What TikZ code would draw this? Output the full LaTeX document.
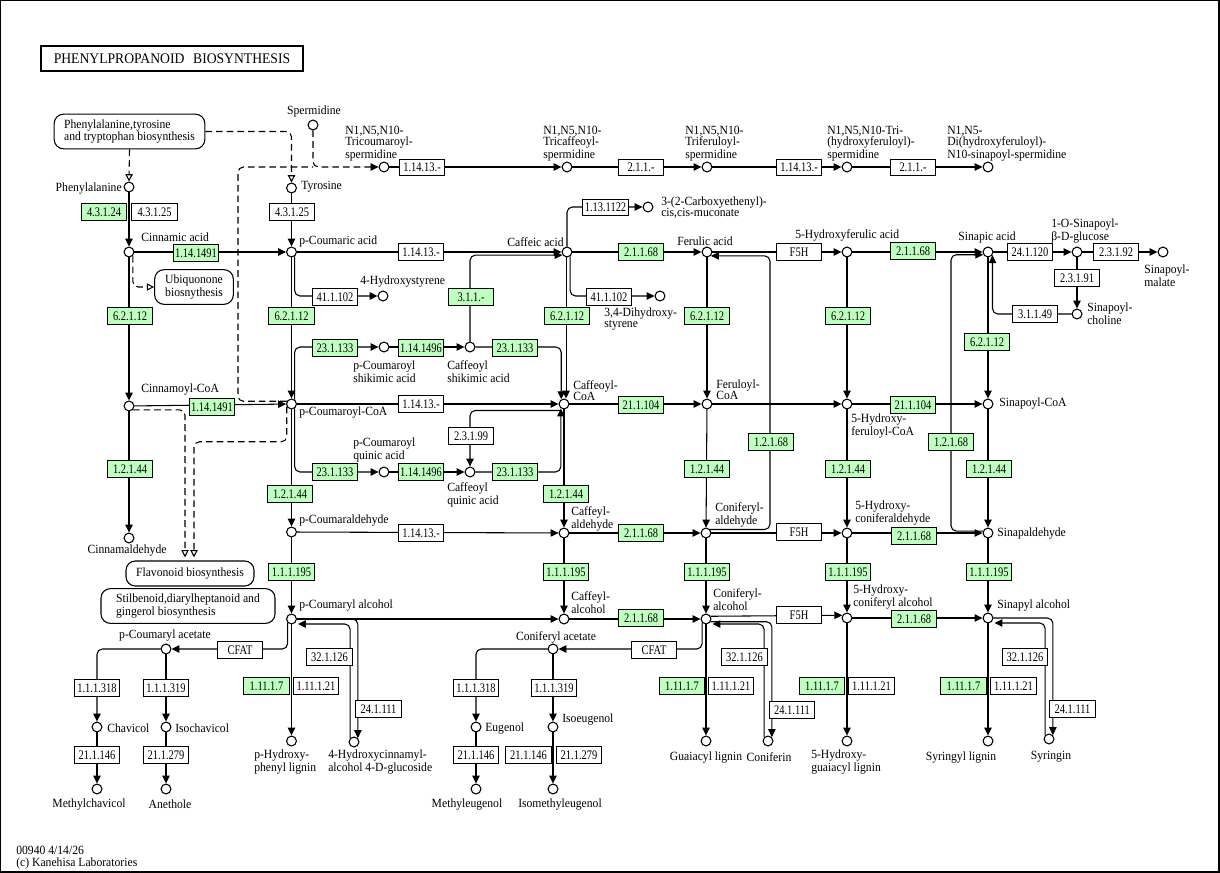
\documentclass[tikz,border=0pt]{standalone}
\usepackage{fontspec}
\setmainfont{Liberation Serif}
\newfontfamily\lblf[FakeStretch=0.93]{Liberation Serif}
\newfontfamily\ecf[FakeStretch=0.8]{Liberation Serif}
\usetikzlibrary{arrows.meta,calc}
\definecolor{kgreen}{RGB}{191,255,191}
\pgfdeclarelayer{bg}
\pgfsetlayers{bg,main}
\begin{document}
\begin{tikzpicture}[x=0.75pt,y=-0.75pt,
  cpd/.style={circle,draw,fill=white,line width=0.8pt,minimum size=7.4pt,inner sep=0pt},
  ec/.style={rectangle,draw,fill=white,line width=0.75pt,minimum width=34pt,minimum height=12.6pt,inner sep=0pt,font=\ecf\fontsize{9.8}{9.8}\selectfont},
  ecg/.style={ec,fill=kgreen},
  lbl/.style={inner sep=0pt,font=\lblf\fontsize{9.4}{8.3}\selectfont,align=left},
  mapbox/.style={draw,rounded corners=7pt,line width=0.8pt,inner sep=0pt,font=\lblf\fontsize{9.4}{8.3}\selectfont},
  con/.style={line width=0.8pt,rounded corners=4pt},
  arr/.style={con,-{Triangle[length=6pt,width=5.6pt]}},
  dsh/.style={con,dash pattern=on 5pt off 3pt},
  oarr/.style={-{Triangle[open,length=5.5pt,width=5.5pt]}}
]
\useasboundingbox (0,0) rectangle (1220,873);
\draw[line width=1.1pt] (0.7,0.7) rectangle (1219,872);
\node[draw,line width=1.6pt,minimum width=196pt,minimum height=18.75pt,inner sep=0pt,font=\lblf\fontsize{11}{11}\selectfont] (title) at (172,58.5) {PHENYLPROPANOID\hspace{0.6em}BIOSYNTHESIS};

% ---------- map boxes
\node[mapbox,minimum width=113pt,minimum height=26pt,align=left] (ptt) at (129.5,131.5) {Phenylalanine,tyrosine\\and tryptophan biosynthesis};
\node[mapbox,minimum width=59pt,minimum height=26pt,align=center] (ubq) at (194,287) {Ubiquonone\\biosnythesis};
\node[mapbox,minimum width=96pt,minimum height=18.75pt] (fla) at (190,573.5) {Flavonoid biosynthesis};
\node[mapbox,minimum width=130.5pt,minimum height=26pt,align=left] (stb) at (188,606) {Stilbenoid,diarylheptanoid and\\gingerol biosynthesis};

% ---------- compounds
\node[cpd] (spd) at (313,125) {};
\node[cpd] (tcs) at (384,167) {};
\node[cpd] (tcafs) at (567,167) {};
\node[cpd] (tfs) at (707,167) {};
\node[cpd] (thfs) at (847,167) {};
\node[cpd] (dhfs) at (988,167) {};
\node[cpd] (phe) at (129,187) {};
\node[cpd] (tyr) at (291.5,188) {};
\node[cpd] (cin) at (129,252) {};
\node[cpd] (pca) at (291.5,252) {};
\node[cpd] (hst) at (383,296) {};
\node[cpd] (caf) at (567,252) {};
\node[cpd] (cem) at (648,207) {};
\node[cpd] (dhs) at (660,296) {};
\node[cpd] (fer) at (707,252) {};
\node[cpd] (hfa) at (847,252) {};
\node[cpd] (sin) at (988,252) {};
\node[cpd] (sglc) at (1077,252) {};
\node[cpd] (smal) at (1163,252) {};
\node[cpd] (schol) at (1077,314) {};
\node[cpd] (pcs) at (384,347) {};
\node[cpd] (cfs) at (470,347) {};
\node[cpd] (cnc) at (129,406) {};
\node[cpd] (pcc) at (291.5,404) {};
\node[cpd] (cfc) at (564,404) {};
\node[cpd] (frc) at (707,404) {};
\node[cpd] (hfc) at (847,404) {};
\node[cpd] (snc) at (988,404) {};
\node[cpd] (pcq) at (384,472) {};
\node[cpd] (cfq) at (470,472) {};
\node[cpd] (cald) at (129,538) {};
\node[cpd] (pcal) at (291.5,532) {};
\node[cpd] (cfal) at (564,533) {};
\node[cpd] (cnal) at (706,533) {};
\node[cpd] (hcal) at (847,533) {};
\node[cpd] (snal) at (988,533) {};
\node[cpd] (pcol) at (291.5,619) {};
\node[cpd] (cfol) at (564,619) {};
\node[cpd] (cnol) at (706,619) {};
\node[cpd] (hcol) at (847,618) {};
\node[cpd] (snol) at (988,618) {};
\node[cpd] (pcac) at (166,649) {};
\node[cpd] (cnac) at (553,649) {};
\node[cpd] (chv) at (97,727) {};
\node[cpd] (ichv) at (166,727) {};
\node[cpd] (mchv) at (97,789) {};
\node[cpd] (anet) at (166,789) {};
\node[cpd] (eug) at (476,727) {};
\node[cpd] (ieug) at (553,727) {};
\node[cpd] (meug) at (476,789) {};
\node[cpd] (imeug) at (553,789) {};
\node[cpd] (phl) at (291.5,741) {};
\node[cpd] (hcg) at (354,742) {};
\node[cpd] (gl) at (706,741) {};
\node[cpd] (cnf) at (768,741) {};
\node[cpd] (hgl) at (847,741) {};
\node[cpd] (sl) at (988,741) {};
\node[cpd] (syr) at (1049,739) {};

% ---------- enzyme boxes
\node[ec] (e1) at (422,167.5) {1.14.13.-};
\node[ec] (e2) at (641,167.5) {2.1.1.-};
\node[ec] (e3) at (799,167.5) {1.14.13.-};
\node[ec] (e4) at (913,167.5) {2.1.1.-};
\node[ecg] (e5) at (104,212) {4.3.1.24};
\node[ec] (e6) at (154.5,212) {4.3.1.25};
\node[ec] (e7) at (292,212) {4.3.1.25};
\node[ecg] (e8) at (196,253) {1.14.1491};
\node[ec] (e9) at (421,252) {1.14.13.-};
\node[ecg] (e10) at (641,252) {2.1.1.68};
\node[ec] (e11) at (799,252) {F5H};
\node[ecg] (e12) at (913,251) {2.1.1.68};
\node[ec] (e13) at (1030,252) {24.1.120};
\node[ec] (e14) at (1116,252) {2.3.1.92};
\node[ec] (e15) at (1077,278) {2.3.1.91};
\node[ec] (e16) at (1035,314) {3.1.1.49};
\node[ec] (e17) at (605.5,207.5) {1.13.1122};
\node[ec] (e18) at (335,297) {41.1.102};
\node[ec] (e19) at (609,297) {41.1.102};
\node[ecg] (e20) at (130,316) {6.2.1.12};
\node[ecg] (e21) at (291.5,316) {6.2.1.12};
\node[ecg] (e22) at (567,316) {6.2.1.12};
\node[ecg] (e23) at (707,316) {6.2.1.12};
\node[ecg] (e24) at (848,316) {6.2.1.12};
\node[ecg] (e25) at (987,342) {6.2.1.12};
\node[ecg] (e26) at (471,297) {3.1.1.-};
\node[ecg] (e27) at (335,348) {23.1.133};
\node[ecg] (e28) at (421,348) {1.14.1496};
\node[ecg] (e29) at (515,348) {23.1.133};
\node[ecg] (e30) at (212,407) {1.14.1491};
\node[ec] (e31) at (421,404) {1.14.13.-};
\node[ecg] (e32) at (641,405) {21.1.104};
\node[ecg] (e33) at (913,405) {21.1.104};
\node[ec] (e34) at (471,436) {2.3.1.99};
\node[ecg] (e35) at (335,472) {23.1.133};
\node[ecg] (e36) at (421,472) {1.14.1496};
\node[ecg] (e37) at (515,472) {23.1.133};
\node[ecg] (e38) at (771,442) {1.2.1.68};
\node[ecg] (e39) at (951,442) {1.2.1.68};
\node[ecg] (e40) at (130,469) {1.2.1.44};
\node[ecg] (e41) at (290,494) {1.2.1.44};
\node[ecg] (e42) at (566,494) {1.2.1.44};
\node[ecg] (e43) at (707,469) {1.2.1.44};
\node[ecg] (e44) at (848,469) {1.2.1.44};
\node[ecg] (e45) at (989,469) {1.2.1.44};
\node[ec] (e46) at (421,533) {1.14.13.-};
\node[ecg] (e47) at (641,533) {2.1.1.68};
\node[ec] (e48) at (799,532) {F5H};
\node[ecg] (e49) at (914,536) {2.1.1.68};
\node[ecg] (e50) at (291.5,572) {1.1.1.195};
\node[ecg] (e51) at (566,572) {1.1.1.195};
\node[ecg] (e52) at (707,572) {1.1.1.195};
\node[ecg] (e53) at (848,572) {1.1.1.195};
\node[ecg] (e54) at (989,572) {1.1.1.195};
\node[ecg] (e55) at (641,618) {2.1.1.68};
\node[ec] (e56) at (799,615) {F5H};
\node[ecg] (e57) at (914,619) {2.1.1.68};
\node[ec] (e58) at (240,650) {CFAT};
\node[ec] (e59) at (654,650) {CFAT};
\node[ec] (e60) at (97,688) {1.1.1.318};
\node[ec] (e61) at (166,688) {1.1.1.319};
\node[ec] (e62) at (97,755) {21.1.146};
\node[ec] (e63) at (166,755) {21.1.279};
\node[ec] (e64) at (476,688) {1.1.1.318};
\node[ec] (e65) at (554,688) {1.1.1.319};
\node[ec] (e66) at (476,755) {21.1.146};
\node[ec] (e67) at (528.5,755) {21.1.146};
\node[ec] (e68) at (579,755) {21.1.279};
\node[ecg] (e69) at (266.5,686) {1.11.1.7};
\node[ec] (e70) at (316,686) {1.11.1.21};
\node[ec] (e71) at (329.5,657) {32.1.126};
\node[ec] (e72) at (378.5,709) {24.1.111};
\node[ecg] (e73) at (682,686) {1.11.1.7};
\node[ec] (e74) at (731,686) {1.11.1.21};
\node[ec] (e75) at (744.5,657) {32.1.126};
\node[ec] (e76) at (792,710) {24.1.111};
\node[ecg] (e77) at (822,686) {1.11.1.7};
\node[ec] (e78) at (871.5,686) {1.11.1.21};
\node[ecg] (e79) at (963.5,686) {1.11.1.7};
\node[ec] (e80) at (1013.5,686) {1.11.1.21};
\node[ec] (e81) at (1025,657) {32.1.126};
\node[ec] (e82) at (1072.5,709) {24.1.111};

% ---------- labels
\node[lbl] (l1) at (314,111) {Spermidine};
\node[lbl,anchor=west] (l2) at (345,144) {N1,N5,N10-\\Tricoumaroyl-\\spermidine};
\node[lbl,anchor=west] (l3) at (543,144) {N1,N5,N10-\\Tricaffeoyl-\\spermidine};
\node[lbl,anchor=west] (l4) at (685,144) {N1,N5,N10-\\Triferuloyl-\\spermidine};
\node[lbl,anchor=west] (l5) at (827,144) {N1,N5,N10-Tri-\\(hydroxyferuloyl)-\\spermidine};
\node[lbl,anchor=west] (l6) at (947,144) {N1,N5-\\Di(hydroxyferuloyl)-\\N10-sinapoyl-spermidine};
\node[lbl,anchor=east] (l7) at (122,189) {Phenylalanine};
\node[lbl,anchor=west] (l8) at (301,187) {Tyrosine};
\node[lbl,anchor=west] (l9) at (141,237) {Cinnamic acid};
\node[lbl,anchor=west] (l10) at (299,241) {p-Coumaric acid};
\node[lbl,anchor=west] (l11) at (360,282) {4-Hydroxystyrene};
\node[lbl,anchor=east] (l12) at (564,242) {Caffeic acid};
\node[lbl,anchor=west] (l13) at (661,208) {3-(2-Carboxyethenyl)-\\cis,cis-muconate};
\node[lbl,anchor=west] (l14) at (604,319) {3,4-Dihydroxy-\\styrene};
\node[lbl] (l15) at (705,241) {Ferulic acid};
\node[lbl,anchor=west] (l16) at (795,235) {5-Hydroxyferulic acid};
\node[lbl,anchor=west] (l17) at (958,237) {Sinapic acid};
\node[lbl,anchor=west] (l18) at (1051,231) {1-O-Sinapoyl-\\β-D-glucose};
\node[lbl,anchor=west] (l19) at (1144,276) {Sinapoyl-\\malate};
\node[lbl,anchor=west] (l20) at (1087,314) {Sinapoyl-\\choline};
\node[lbl,anchor=west] (l21) at (353,372) {p-Coumaroyl\\shikimic acid};
\node[lbl,anchor=west] (l22) at (447,372) {Caffeoyl\\shikimic acid};
\node[lbl,anchor=west] (l23) at (141,390) {Cinnamoyl-CoA};
\node[lbl,anchor=west] (l24) at (299,413) {p-Coumaroyl-CoA};
\node[lbl,anchor=west] (l25) at (573,391) {Caffeoyl-\\CoA};
\node[lbl,anchor=west] (l26) at (716,390) {Feruloyl-\\CoA};
\node[lbl,anchor=west] (l27) at (851,426) {5-Hydroxy-\\feruloyl-CoA};
\node[lbl,anchor=west] (l28) at (999,404) {Sinapoyl-CoA};
\node[lbl,anchor=west] (l29) at (353,450) {p-Coumaroyl\\quinic acid};
\node[lbl,anchor=west] (l30) at (447,495) {Caffeoyl\\quinic acid};
\node[lbl] (l31) at (127,551) {Cinnamaldehyde};
\node[lbl,anchor=west] (l32) at (299,521) {p-Coumaraldehyde};
\node[lbl,anchor=west] (l33) at (571,519) {Caffeyl-\\aldehyde};
\node[lbl,anchor=west] (l34) at (715,515) {Coniferyl-\\aldehyde};
\node[lbl,anchor=west] (l35) at (855,513) {5-Hydroxy-\\coniferaldehyde};
\node[lbl,anchor=west] (l36) at (997,534) {Sinapaldehyde};
\node[lbl,anchor=west] (l37) at (299,606) {p-Coumaryl alcohol};
\node[lbl,anchor=west] (l38) at (571,603) {Caffeyl-\\alcohol};
\node[lbl,anchor=west] (l39) at (713,600) {Coniferyl-\\alcohol};
\node[lbl,anchor=west] (l40) at (853,597) {5-Hydroxy-\\coniferyl alcohol};
\node[lbl,anchor=west] (l41) at (997,606) {Sinapyl alcohol};
\node[lbl] (l42) at (165,636) {p-Coumaryl acetate};
\node[lbl] (l43) at (556,637) {Coniferyl acetate};
\node[lbl,anchor=west] (l44) at (107,728) {Chavicol};
\node[lbl,anchor=west] (l45) at (175,728) {Isochavicol};
\node[lbl,anchor=west] (l46) at (485,728) {Eugenol};
\node[lbl,anchor=west] (l47) at (562,719) {Isoeugenol};
\node[lbl] (l48) at (89,804) {Methylchavicol};
\node[lbl] (l49) at (170,804) {Anethole};
\node[lbl] (l50) at (467,804) {Methyleugenol};
\node[lbl] (l51) at (560,804) {Isomethyleugenol};
\node[lbl,anchor=west] (l52) at (254,762) {p-Hydroxy-\\phenyl lignin};
\node[lbl,anchor=west] (l53) at (328,762) {4-Hydroxycinnamyl-\\alcohol 4-D-glucoside};
\node[lbl] (l54) at (706,757) {Guaiacyl lignin};
\node[lbl] (l55) at (769,757) {Coniferin};
\node[lbl,anchor=west] (l56) at (811,762) {5-Hydroxy-\\guaiacyl lignin};
\node[lbl] (l57) at (961,757) {Syringyl lignin};
\node[lbl] (l58) at (1051,757) {Syringin};
\node[lbl,anchor=west] (l59) at (16,850) {00940 4/14/26};
\node[lbl,anchor=west] (l60) at (16,863) {(c) Kanehisa Laboratories};

% ---------- connectors
\begin{pgfonlayer}{bg}
\draw[dsh,arr] (spd.south) |- (tcs.west);
\draw[dsh] (pcc.150) -| (238,167) -- (spd |- tcs);
\draw[arr] (tcs) -- (tcafs);
\draw[arr] (tcafs) -- (tfs);
\draw[arr] (tfs) -- (thfs);
\draw[arr] (thfs) -- (dhfs);
\draw[dsh,oarr] (ptt.south) -- (phe.north);
\draw[dsh,oarr] (ptt.east) -| (tyr.north);
\draw[dsh,oarr] (cin.-45) |- (ubq.west);
\draw[dsh,oarr] (cnc.-45) -| ($(fla.north)+(-5,-3)$);
\draw[dsh,oarr] (pcc.-150) -- ++(0,35) -| ($(fla.north)+(4,-3)$);
\draw[arr] (phe) -- (cin);
\draw[arr] (tyr) -- (pca);
\draw[arr] (cin) -- (pca);
\draw[arr] (cin) -- (cnc);
\draw[arr] (cnc) -- (pcc);
\draw[arr] (cnc) -- (cald);
\draw[arr] (pca) -- (pcc);
\draw[arr] (pca.-55) |- (hst.west);
\draw[arr] (pcc.55) |- (pcs.west);
\draw[arr] (pcs) -- (cfs);
\draw[arr] (cfs) -| (cfc.120);
\draw[arr] (cfs.north) |- (caf.-145);
\draw[arr] (pca) -- (caf);
\draw[arr] (caf) -- (fer);
\draw[arr] (caf.north) |- (cem.west);
\draw[arr] (caf.-55) |- (dhs.west);
\draw[arr] (caf.-100) -- (caf.-100 |- cfc.north);
\draw[arr] (fer) -- (frc);
\draw[arr] (fer) -- (hfa);
\draw[arr] (hfa) -- (sin);
\draw[arr] (hfa) -- (hfc);
\draw[arr] (sin) -- (sglc);
\draw[arr] (sglc) -- (smal);
\draw[arr] (sglc) -- (schol);
\draw[arr] (schol) -| (sin.-35);
\draw[arr] (sin) -- (snc);
\draw[arr] (snal.160) -| (951,400) |- (sin.-150);
\draw[arr] (cnal.40) -| (770,400) |- (fer.-45);
\draw[arr] (pcc) -- (cfc);
\draw[arr] (cfc) -- (frc);
\draw[arr] (frc) -- (hfc);
\draw[arr] (hfc) -- (snc);
\draw[arr] (pcc) -- (pcal);
\draw[arr] (pcc.-55) |- (pcq.west);
\draw[arr] (pcq) -- (cfq);
\draw[arr] (cfq) -| (cfc.-125);
\draw[arr] ($(cfc.-125)+(0,2)$) -| (cfq.north);
\draw[arr] (cfc) -- (cfal);
\draw[arr] (frc) -- (cnal);
\draw[arr] (hfc) -- (hcal);
\draw[arr] (snc) -- (snal);
\draw[arr] (pcal) -- (cfal);
\draw[arr] (cfal) -- (cnal);
\draw[arr] (cnal) -- (hcal);
\draw[arr] (hcal) -- (snal);
\draw[arr] (pcal) -- (pcol);
\draw[arr] (cfal) -- (cfol);
\draw[arr] (cnal) -- (cnol);
\draw[arr] (hcal) -- (hcol);
\draw[arr] (snal) -- (snol);
\draw[arr] (pcol) -- (cfol);
\draw[arr] (cfol) -- (cnol);
\draw[arr] (cnol.30) -- (hcol.150);
\draw[arr] (hcol) -- (snol);
\draw[arr] (pcol) -- (phl);
\draw[arr] (pcol.east) -| (hcg.45);
\draw[arr] (hcg.135) |- ($(pcol.east)+(1,5)$);
\draw[arr] (pcol.-135) |- (pcac.east);
\draw[arr] (pcac.west) -| (chv.north);
\draw[arr] (pcac) -- (ichv);
\draw[arr] (chv) -- (mchv);
\draw[arr] (ichv) -- (anet);
\draw[arr] (cnol) -- (gl);
\draw[arr] (cnol.-30) -| (cnf.45);
\draw[arr] (cnf.135) |- ($(cnol.east)+(1,5)$);
\draw[arr] (cnol.-135) |- (cnac.east);
\draw[arr] (cnac.west) -| (eug.north);
\draw[arr] (cnac) -- (ieug);
\draw[arr] (eug) -- (meug);
\draw[arr] (ieug) -- (imeug);
\draw[arr] (hcol) -- (hgl);
\draw[arr] (snol) -- (sl);
\draw[arr] (snol.east) -| (syr.45);
\draw[arr] (syr.135) |- ($(snol.east)+(1,5)$);
\end{pgfonlayer}
\end{tikzpicture}
\end{document}
